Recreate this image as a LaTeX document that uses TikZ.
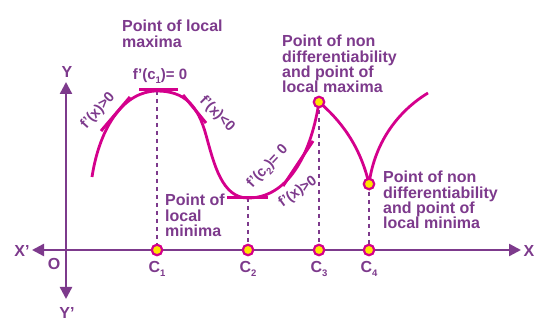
\documentclass[tikz,border=0pt]{standalone}
\usepackage{fontspec}
\setmainfont{Liberation Sans}
\usetikzlibrary{arrows.meta}
\definecolor{axispurple}{RGB}{125,58,140}
\definecolor{curvemag}{RGB}{212,0,140}
\definecolor{ptyellow}{RGB}{255,228,0}
\newcommand\subidx[1]{\raisebox{-0.5ex}{\fontsize{9.5}{9.5}\selectfont #1}}
\begin{document}
\begin{tikzpicture}[x=1pt,y=-1pt,
  axis/.style={axispurple,line width=2.4pt,{Triangle[length=12pt,width=12pt]}-{Triangle[length=12pt,width=12pt]}},
  curve/.style={curvemag,line width=2.8pt},
  tangent/.style={curvemag,line width=3pt},
  guide/.style={axispurple,line width=1.8pt,dash pattern=on 4.5pt off 3.5pt},
  pt/.style={circle,draw=curvemag,fill=ptyellow,line width=2.2pt,minimum size=10.5pt,inner sep=0pt},
  lab/.style={axispurple,font=\bfseries\fontsize{16}{15.4}\selectfont,inner sep=0pt},
  note/.style={lab,align=left,anchor=north west},
  slope/.style={axispurple,font=\bfseries\fontsize{14.5}{14}\selectfont,inner sep=0pt}]
  \useasboundingbox (0,0) rectangle (536,336);
  % axes
  \coordinate (O) at (66,250);
  \coordinate (xl) at (32,250);
  \coordinate (xr) at (521,250);
  \coordinate (yt) at (66,82);
  \coordinate (yb) at (66,299);
  \draw[axis] (xl) -- (xr);
  \draw[axis] (yt) -- (yb);
  \node[lab] (xllab) at (22,251) {X’};
  \node[lab] (xrlab) at (529,251) {X};
  \node[lab] (ytlab) at (67,72) {Y};
  \node[lab] (yblab) at (67,313) {Y’};
  \node[lab] (olab) at (54,264) {O};
  % points on the curve and on the x axis
  \coordinate (m1) at (157,91);
  \coordinate (m2) at (248,198);
  \coordinate (m3) at (319,102);
  \coordinate (m4) at (369,184);
  \coordinate (c1) at (157,250);
  \coordinate (c2) at (248,250);
  \coordinate (c3) at (319,250);
  \coordinate (c4) at (369,250);
  \foreach \i in {1,...,4}
    \draw[guide] (m\i) -- (c\i);
  \draw[curve] (92,177) .. controls (100,125) and (125,91) .. (m1)
    .. controls (185,91) and (198,106) .. (206,135)
    .. controls (214,164) and (222,198) .. (m2)
    .. controls (285,198) and (310,160) .. (m3)
    .. controls (340,120) and (360,145) .. (m4)
    .. controls (375,140) and (400,110) .. (428,93);
  % tangents
  \draw[tangent] (101,131) -- (130,97);
  \draw[tangent] (139,90) -- (178,90);
  \draw[tangent] (183,95) -- (206,123);
  \draw[tangent] (227,198) -- (268,198);
  \draw[tangent] (283,186) -- (313,141);
  \foreach \i in {1,...,4}
    \node[pt] (p\i) at (c\i) {};
  \node[pt] (top3) at (m3) {};
  \node[pt] (bot4) at (m4) {};
  \node[lab,anchor=north] (c1lab) at ([yshift=-11pt]p1) {C\subidx{1}};
  \node[lab,anchor=north] (c2lab) at ([yshift=-11pt]p2) {C\subidx{2}};
  \node[lab,anchor=north] (c3lab) at ([yshift=-11pt]p3) {C\subidx{3}};
  \node[lab,anchor=north] (c4lab) at ([yshift=-11pt]p4) {C\subidx{4}};
  % slope labels
  \node[slope,font=\bfseries\fontsize{15}{15}\selectfont] (d1) at (160,76) {f’(c\subidx{1})= 0};
  \node[slope,rotate=48] (d2) at (98,111) {f’(x)>0};
  \node[slope,rotate=-45] (d3) at (217,114) {f’(x)<0};
  \node[slope,rotate=47] (d4) at (268,167) {f’(c\subidx{2})= 0};
  \node[slope,rotate=36] (d5) at (298,192) {f’(x)>0};
  % notes
  \node[note] (n1) at (122,20) {Point of local\\maxima};
  \node[note] (n2) at (165,194) {Point of\\local\\minima};
  \node[note] (n3) at (282,35) {Point of non\\differentiability\\and point of\\local maxima};
  \node[note] (n4) at (383,171) {Point of non\\differentiability\\and point of\\local minima};
\end{tikzpicture}
\end{document}
